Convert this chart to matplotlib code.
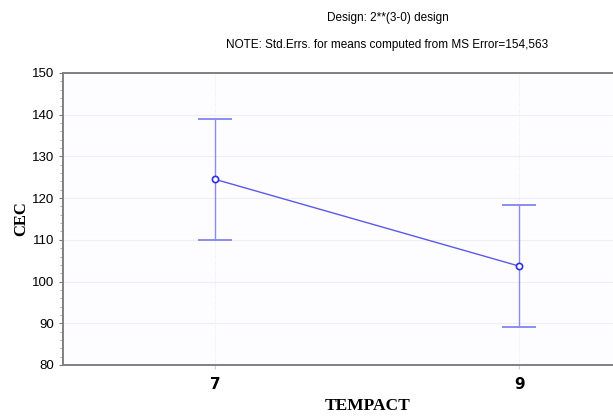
import numpy as np
import matplotlib.pyplot as plt
from matplotlib.ticker import MultipleLocator

# means and confidence limits for CEC at each TEMPACT level
levels = ['7', '9']
cec_mean = [124.5, 103.7]
cec_upper = [139.0, 118.3]
cec_lower = [110.0, 89.1]

title1 = 'Design: 2**(3-0) design'
title2 = 'NOTE: Std.Errs. for means computed from MS Error=154,563'

fig = plt.figure(figsize=(6.13, 4.16), dpi=100)
ax = fig.add_axes([0.103, 0.1226, 0.992, 0.702])

x = np.arange(len(levels))
mean = np.array(cec_mean)
yerr = [mean - np.array(cec_lower), np.array(cec_upper) - mean]

# error bars first, then the mean line on top
ax.errorbar(x, mean, yerr=yerr, fmt='none', ecolor='#8c8cf0', elinewidth=1.0,
            capsize=12.5, capthick=1.4, zorder=2)
ax.plot(x, mean, color='#5a5ae8', lw=1.0, marker='o', ms=4.5,
        mfc='white', mec='#2f2fe0', mew=1.2, zorder=3)

ax.set_xlim(-0.5, 1.5)
ax.set_ylim(80, 150)
ax.set_xticks(x)
ax.set_xticklabels(levels, fontsize=11, fontweight='bold', family='DejaVu Sans')
ax.yaxis.set_major_locator(MultipleLocator(10))
ax.yaxis.set_minor_locator(MultipleLocator(2))
ax.tick_params(axis='y', labelsize=9.5, length=3, color='#777777')
ax.tick_params(axis='y', which='minor', length=2, color='#999999')
ax.tick_params(axis='x', length=3, color='#cccccc', pad=6)
for t in ax.get_yticklabels():
    t.set_family('Liberation Sans')

ax.set_facecolor('#fdfdff')
ax.grid(axis='y', color='#eceef6', lw=0.8)
ax.grid(axis='x', color='#e6e8f0', lw=0.6, ls=':')
ax.set_axisbelow(True)

for side in ['left', 'bottom', 'top']:
    ax.spines[side].set_color('#808080')
    ax.spines[side].set_linewidth(1.4)
ax.spines['right'].set_visible(False)

ax.set_xlabel('TEMPACT', family='Liberation Serif', fontweight='bold', fontsize=12.5, labelpad=4)
ax.set_ylabel('CEC', family='Liberation Serif', fontweight='bold', fontsize=12, labelpad=2)

fig.text(0.632, 0.956, title1, ha='center', va='center', family='Liberation Sans', fontsize=8.5)
fig.text(0.632, 0.892, title2, ha='center', va='center', family='Liberation Sans', fontsize=8.5)

fig.savefig('out.png', dpi=100)
